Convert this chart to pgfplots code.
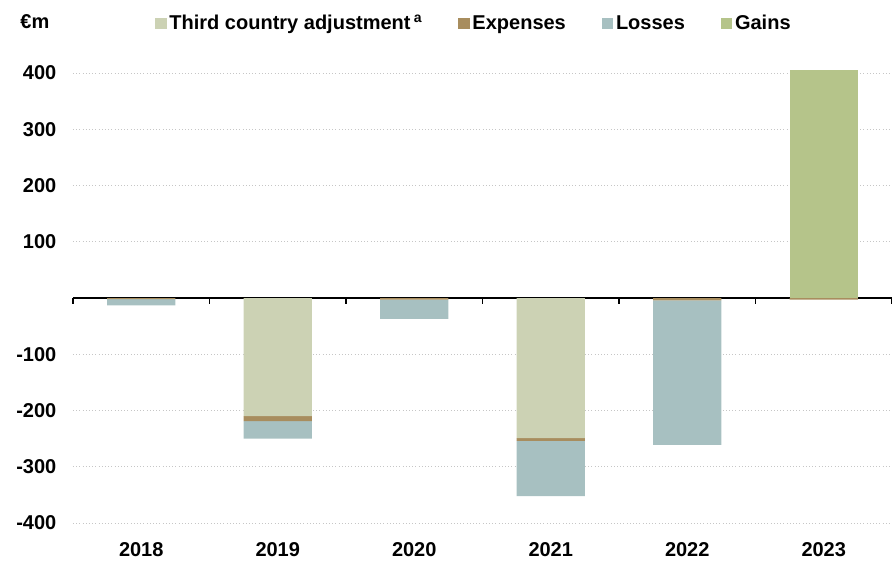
\documentclass[border=0pt]{standalone}
\usepackage{pgfplots}
\pgfplotsset{compat=1.18}
\usepackage{fontspec}
\setmainfont{Liberation Sans}
\definecolor{cThird}{HTML}{CCD2B4}
\definecolor{cExp}{HTML}{A88D5E}
\definecolor{cLoss}{HTML}{A7C0C1}
\definecolor{cGain}{HTML}{B5C48A}
\newcommand{\lblfont}{\bfseries\fontsize{15}{17}\selectfont}
\begin{document}
\begin{tikzpicture}[x=0.75pt,y=0.75pt]
\useasboundingbox (-73,-27) rectangle (819,535);
\begin{axis}[
  at={(0,0)}, anchor=south west,
  scale only axis, width=614.25pt, height=363.75pt,
  ybar stacked, bar width=0.5,
  xmin=-0.5, xmax=5.5, ymin=-421.3, ymax=440.9,
  axis line style={draw=none},
  xtick={0,1,2,3,4,5},
  xticklabels={2018,2019,2020,2021,2022,2023},
  xticklabel style={font=\lblfont, yshift=-2pt},
  yticklabel style={font=\lblfont, xshift=-9pt},
  ytick={-400,-300,-200,-100,100,200,300,400},
  major tick length=0pt,
  ymajorgrids, grid style={gray!45, dotted, line width=0.6pt},
  /pgf/number format/assume math mode=true,
  legend style={draw=none, at={(0.49,1.0)}, anchor=center, yshift=20pt,
    font=\lblfont, legend columns=4, inner sep=0pt,
    /tikz/every even column/.append style={column sep=25pt}},
  legend image code/.code={\fill[#1] (0pt,-4.6pt) rectangle (8.6pt,4.0pt);},
  clip=false,
]
\addplot[fill=cThird, draw=none] coordinates {(0,0) (1,-210) (2,0) (3,-249) (4,0) (5,0)};
\addplot[fill=cExp, draw=none] coordinates {(0,-2) (1,-9) (2,-3) (3,-5) (4,-4) (5,-3)};
\addplot[fill=cLoss, draw=none] coordinates {(0,-11) (1,-31) (2,-34) (3,-98) (4,-257) (5,0)};
\addplot[fill=cGain, draw=none] coordinates {(0,0) (1,0) (2,0) (3,0) (4,0) (5,406)};
\legend{Third country adjustment\,\textsuperscript{a},Expenses,Losses,Gains}
\draw[black, line width=1.5pt] (axis cs:-0.5,0) -- (axis cs:5.5,0);
\pgfplotsinvokeforeach{-0.5,0.5,1.5,2.5,3.5,4.5,5.5}{
  \draw[black, line width=1.2pt] (axis cs:#1,0) -- ++(0pt,-4.5pt);
}
\end{axis}
\node[font=\lblfont, anchor=east] at (-19,513) {\symbol{"20AC}m};
\end{tikzpicture}
\end{document}
